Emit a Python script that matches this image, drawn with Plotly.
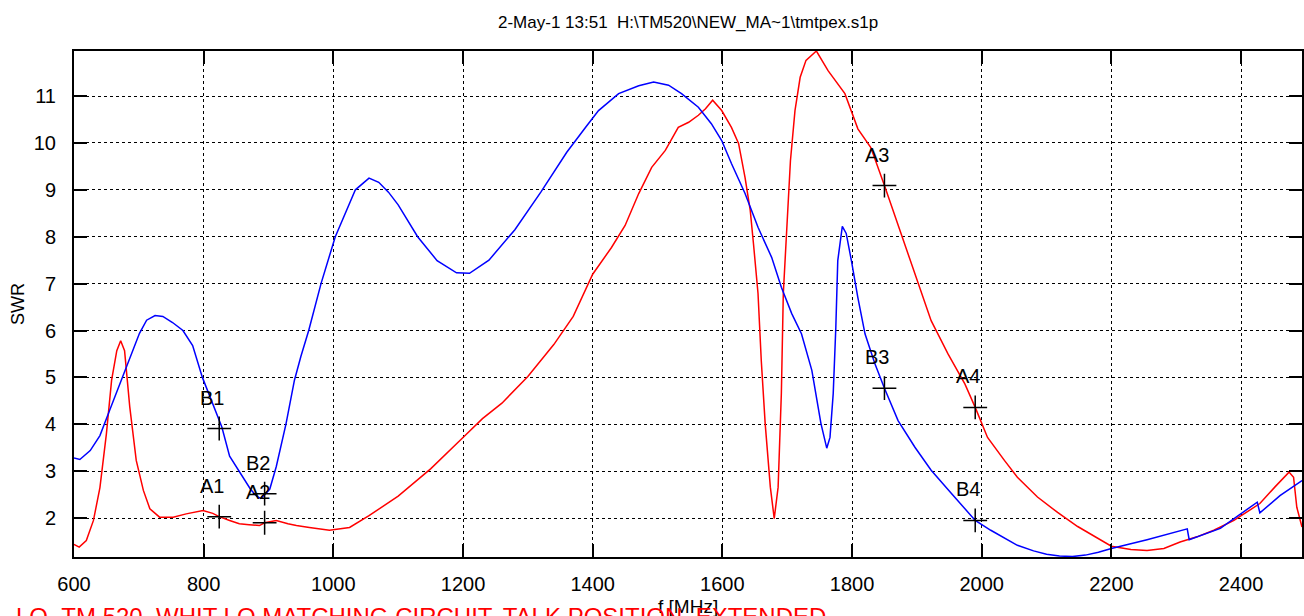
import plotly.graph_objects as go

# ---- data ----
freq_b = [600, 609, 625, 640, 655, 671, 686, 701, 712, 725, 737, 752, 768, 783, 798, 814, 828,
          840, 852, 862, 872, 882, 888, 894, 902, 912, 927, 940, 950, 962, 981, 1003, 1020, 1034,
          1055, 1070, 1085, 1100, 1130, 1160, 1190, 1210, 1240, 1280, 1320, 1360, 1390, 1409,
          1440, 1471, 1494, 1517, 1537, 1563, 1583, 1599, 1614, 1635, 1655, 1676, 1691, 1707,
          1722, 1738, 1752, 1761, 1766, 1771, 1775, 1778, 1785, 1791, 1799, 1809, 1820, 1835,
          1850, 1871, 1897, 1922, 1953, 1990, 2014, 2055, 2080, 2100, 2120, 2140, 2160, 2180,
          2200, 2230, 2255, 2317, 2320, 2368, 2397, 2425, 2429, 2460, 2494]
swr_b = [3.28, 3.25, 3.44, 3.76, 4.30, 4.87, 5.43, 5.94, 6.22, 6.32, 6.30, 6.17, 6.00, 5.68, 5.00,
         4.45, 3.94, 3.32, 3.05, 2.85, 2.62, 2.46, 2.42, 2.50, 2.62, 3.10, 4.01, 4.94, 5.45, 6.00,
         7.00, 8.00, 8.55, 9.00, 9.25, 9.16, 8.95, 8.68, 8.00, 7.49, 7.23, 7.22, 7.50, 8.15, 8.95,
         9.80, 10.35, 10.69, 11.05, 11.22, 11.30, 11.23, 11.05, 10.76, 10.41, 10.05, 9.56, 8.92,
         8.20, 7.56, 6.92, 6.36, 5.93, 5.15, 4.02, 3.49, 3.72, 4.66, 6.07, 7.49, 8.22, 8.07, 7.49,
         6.70, 5.93, 5.30, 4.77, 4.08, 3.51, 3.02, 2.53, 1.95, 1.74, 1.42, 1.30, 1.23, 1.19, 1.18,
         1.21, 1.27, 1.35, 1.45, 1.54, 1.77, 1.54, 1.78, 2.06, 2.34, 2.11, 2.48, 2.80]

freq_a = [600, 608, 619, 630, 640, 650, 658, 666, 672, 678, 686, 696, 707, 717, 732, 753, 773, 799,
          814, 824, 840, 855, 870, 886, 894, 912, 930, 943, 963, 994, 1025, 1055, 1100, 1150,
          1200, 1230, 1260, 1300, 1340, 1370, 1400, 1429, 1450, 1471, 1491, 1512, 1532, 1548,
          1563, 1574, 1585, 1599, 1614, 1625, 1635, 1643, 1648, 1655, 1660, 1666, 1674, 1680,
          1686, 1691, 1694, 1699, 1705, 1712, 1720, 1729, 1745, 1763, 1789, 1809, 1829, 1850,
          1871, 1897, 1922, 1948, 1974, 1990, 2009, 2035, 2055, 2086, 2117, 2148, 2178, 2200,
          2230, 2255, 2281, 2306, 2332, 2358, 2389, 2409, 2429, 2452, 2466, 2474, 2481, 2486, 2494]
swr_a = [1.44, 1.38, 1.52, 1.95, 2.65, 3.80, 4.94, 5.57, 5.78, 5.57, 4.37, 3.23, 2.59, 2.20, 2.02,
         2.02, 2.09, 2.16, 2.10, 2.03, 1.95, 1.88, 1.86, 1.84, 1.90, 1.95, 1.88, 1.84, 1.80, 1.74,
         1.80, 2.05, 2.47, 3.05, 3.72, 4.12, 4.45, 5.02, 5.70, 6.30, 7.20, 7.77, 8.24, 8.92, 9.48,
         9.84, 10.33, 10.44, 10.59, 10.73, 10.91, 10.69, 10.33, 9.99, 9.26, 8.56, 7.85, 6.79, 5.36,
         4.02, 2.66, 1.99, 2.66, 4.66, 6.79, 8.20, 9.62, 10.69, 11.40, 11.76, 11.96, 11.54, 11.05,
         10.30, 9.90, 9.09, 8.24, 7.21, 6.21, 5.50, 4.86, 4.36, 3.72, 3.23, 2.87, 2.45, 2.12, 1.82,
         1.57, 1.40, 1.33, 1.31, 1.35, 1.49, 1.60, 1.74, 1.95, 2.13, 2.31, 2.66, 2.87, 2.98, 2.87,
         2.23, 1.81]

marker_freq = [824, 894, 1850, 1990]
marker_a = [2.03, 1.90, 9.09, 4.36]
marker_b = [3.91, 2.52, 4.77, 1.95]
labels_a = ["A1", "A2", "A3", "A4"]
labels_b = ["B1", "B2", "B3", "B4"]

x_ticks = [600, 800, 1000, 1200, 1400, 1600, 1800, 2000, 2200, 2400]
y_ticks = [2, 3, 4, 5, 6, 7, 8, 9, 10, 11]

title_text = "2-May-1 13:51\u00a0\u00a0H:\\TM520\\NEW_MA~1\\tmtpex.s1p"
note_text = "LO\u00a0\u00a0TM 520, WHIT LO MATCHING CIRCUIT, TALK POSITION, EXTENDED"

FONT = "Liberation Sans, Arial, sans-serif"

fig = go.Figure()
fig.add_trace(go.Scatter(x=freq_a, y=swr_a, mode="lines",
                         line=dict(color="#ff0000", width=1.5), hoverinfo="skip"))
fig.add_trace(go.Scatter(x=freq_b, y=swr_b, mode="lines",
                         line=dict(color="#0000ff", width=1.5), hoverinfo="skip"))
for ys in (marker_a, marker_b):
    fig.add_trace(go.Scatter(x=marker_freq, y=ys, mode="markers",
                             marker=dict(symbol="cross-thin", size=17,
                                         line=dict(color="black", width=1.5)),
                             hoverinfo="skip"))

annotations = []
for ys, labs in ((marker_a, labels_a), (marker_b, labels_b)):
    for fx, fy, lab in zip(marker_freq, ys, labs):
        annotations.append(dict(x=fx, y=fy, xref="x", yref="y", text=lab, showarrow=False,
                                xshift=-7, yshift=31, font=dict(size=20, color="black", family=FONT)))

annotations += [
    dict(text=title_text, xref="paper", yref="paper", x=0.5, y=1, yshift=29,
         xanchor="center", yanchor="middle", showarrow=False,
         font=dict(size=17, color="black", family=FONT)),
    dict(text="SWR", xref="paper", yref="paper", x=0, y=0.5, xshift=-56, textangle=-90,
         xanchor="center", yanchor="middle", showarrow=False,
         font=dict(size=18, color="black", family=FONT)),
    dict(text="f [MHz]", xref="paper", yref="paper", x=0.5, y=0, yshift=-49,
         xanchor="center", yanchor="middle", showarrow=False,
         font=dict(size=19, color="black", family=FONT)),
    dict(text=note_text, xref="paper", yref="paper", x=0, y=0, xshift=-60, yshift=-59,
         xanchor="left", yanchor="middle", showarrow=False,
         font=dict(size=24, color="#ff0000", family=FONT)),
]

axis_common = dict(showline=True, linecolor="black", linewidth=2, mirror="ticks",
                   ticks="inside", ticklen=13, tickwidth=1.5, tickcolor="black",
                   showgrid=True, gridcolor="black", gridwidth=1, griddash="3px,3px",
                   zeroline=False, tickfont=dict(size=20, color="black", family=FONT))

fig.update_layout(
    width=1304, height=616,
    margin=dict(l=74, r=0, t=51, b=59),
    plot_bgcolor="white", paper_bgcolor="white",
    showlegend=False,
    font=dict(family=FONT, size=17, color="black"),
    xaxis=dict(range=[600, 2494], tickvals=x_ticks, ticklabelstandoff=8, **axis_common),
    yaxis=dict(range=[1.17, 11.96], tickvals=y_ticks, ticklabelstandoff=12, **axis_common),
    annotations=annotations,
)

fig.write_html("out.html", config={"displayModeBar": False},
               post_script="document.body.style.margin='0';")
